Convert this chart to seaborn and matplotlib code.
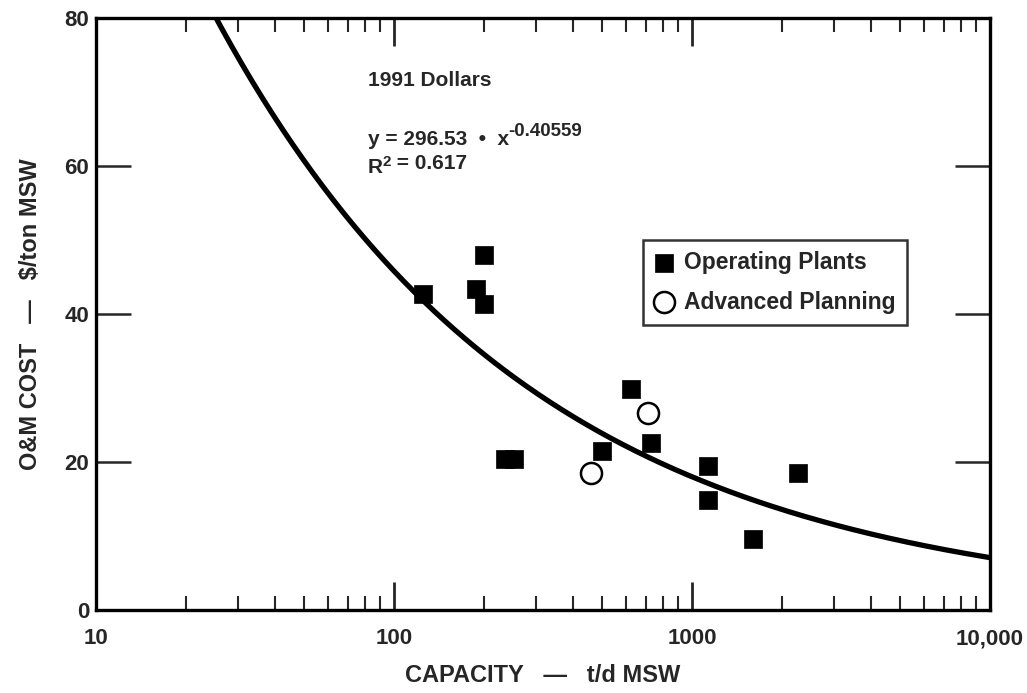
import numpy as np
import pandas as pd
import matplotlib
matplotlib.use("Agg")
import matplotlib.pyplot as plt
from matplotlib.ticker import FixedLocator, NullFormatter
import seaborn as sns

# ---- data ----
op_capacity = [125, 200, 188, 200, 236, 253, 499, 623, 728, 1132, 1132, 1603, 2270]
op_cost = [42.7, 48.0, 43.4, 41.4, 20.4, 20.4, 21.5, 29.9, 22.6, 19.5, 14.9, 9.6, 18.5]
adv_capacity = [458, 711]
adv_cost = [18.5, 26.6]
fit_a = 296.53
fit_b = -0.40559
r2 = 0.617
x_ticks = [10, 100, 1000, 10000]
x_ticklabels = ["10", "100", "1000", "10,000"]
y_ticks = [0, 20, 40, 60, 80]

sns.set_style("ticks")
plt.rcParams["font.family"] = ["Liberation Sans", "DejaVu Sans"]
plt.rcParams["font.weight"] = "bold"

fig = plt.figure(figsize=(10.27, 6.93), dpi=100)
ax = fig.add_axes([0.0935, 0.1198, 0.8705, 0.8542])

df_op = pd.DataFrame({"capacity": op_capacity, "cost": op_cost})
df_adv = pd.DataFrame({"capacity": adv_capacity, "cost": adv_cost})

xs = np.logspace(np.log10(20), 4, 400)
df_fit = pd.DataFrame({"capacity": xs, "cost": fit_a * xs ** fit_b})
sns.lineplot(data=df_fit, x="capacity", y="cost", ax=ax, color="black",
             linewidth=3.8, zorder=2, legend=False)

sns.scatterplot(data=df_op, x="capacity", y="cost", ax=ax, marker="s", s=150,
                color="black", edgecolor="black", linewidth=0.5, zorder=3,
                label="Operating Plants")
sns.scatterplot(data=df_adv, x="capacity", y="cost", ax=ax, marker="o", s=230,
                facecolor="white", edgecolor="black", linewidth=1.8, zorder=3,
                label="Advanced Planning")

ax.set_xscale("log")
ax.set_xlim(10, 10000)
ax.set_ylim(0, 80)

ax.xaxis.set_major_locator(FixedLocator(x_ticks))
ax.set_xticklabels(x_ticklabels)
minor = [m * d for d in (10, 100, 1000) for m in range(2, 10)]
ax.xaxis.set_minor_locator(FixedLocator(minor))
ax.xaxis.set_minor_formatter(NullFormatter())
ax.set_yticks(y_ticks)

ax.tick_params(axis="x", which="major", direction="in", length=20, width=2,
               top=True, labelsize=16, pad=13)
ax.tick_params(axis="x", which="minor", direction="in", length=10, width=1.5,
               top=True)
ax.tick_params(axis="y", which="major", direction="in", length=25, width=1.8,
               right=True, labelsize=16, pad=5)
for lab in ax.get_xticklabels() + ax.get_yticklabels():
    lab.set_fontweight("bold")

for sp in ax.spines.values():
    sp.set_linewidth(2.4)
    sp.set_color("black")

ax.set_xlabel("CAPACITY   \u2014   t/d MSW", fontsize=17, fontweight="bold", labelpad=11)
ax.set_ylabel("O&M COST   \u2014   \\$/ton MSW", fontsize=17, fontweight="bold", labelpad=16)

ax.text(0.304, 0.894, "1991 Dollars", transform=ax.transAxes, fontsize=15,
        fontweight="bold", va="center", ha="left")
t = ax.text(0.304, 0.794, "y = 296.53  \u2022  x", transform=ax.transAxes,
            fontsize=15, fontweight="bold", va="center", ha="left")
ax.annotate("-0.40559", xy=(0.995, 0.5), xycoords=t, fontsize=13.5, fontweight="bold",
            va="bottom", ha="left")
t2 = ax.text(0.304, 0.748, "R", transform=ax.transAxes, fontsize=15,
             fontweight="bold", va="center", ha="left")
t3 = ax.annotate("2", xy=(1, 0.4), xycoords=t2, fontsize=11, fontweight="bold",
                 va="bottom", ha="left")
t4 = ax.annotate(f" = {r2}", xy=(1, 0), xycoords=t3, fontsize=15, fontweight="bold",
                 va="bottom", ha="left")
t4.set_va("baseline")

leg = ax.legend(loc="upper left", bbox_to_anchor=(0.612, 0.625), borderaxespad=0,
                frameon=True, fancybox=False, edgecolor="black",
                handletextpad=0.5, borderpad=0.5, labelspacing=0.7,
                handlelength=0.8, prop={"weight": "bold", "size": 16.5})
leg.get_frame().set_linewidth(1.8)

fig.savefig("out.png", dpi=100)
